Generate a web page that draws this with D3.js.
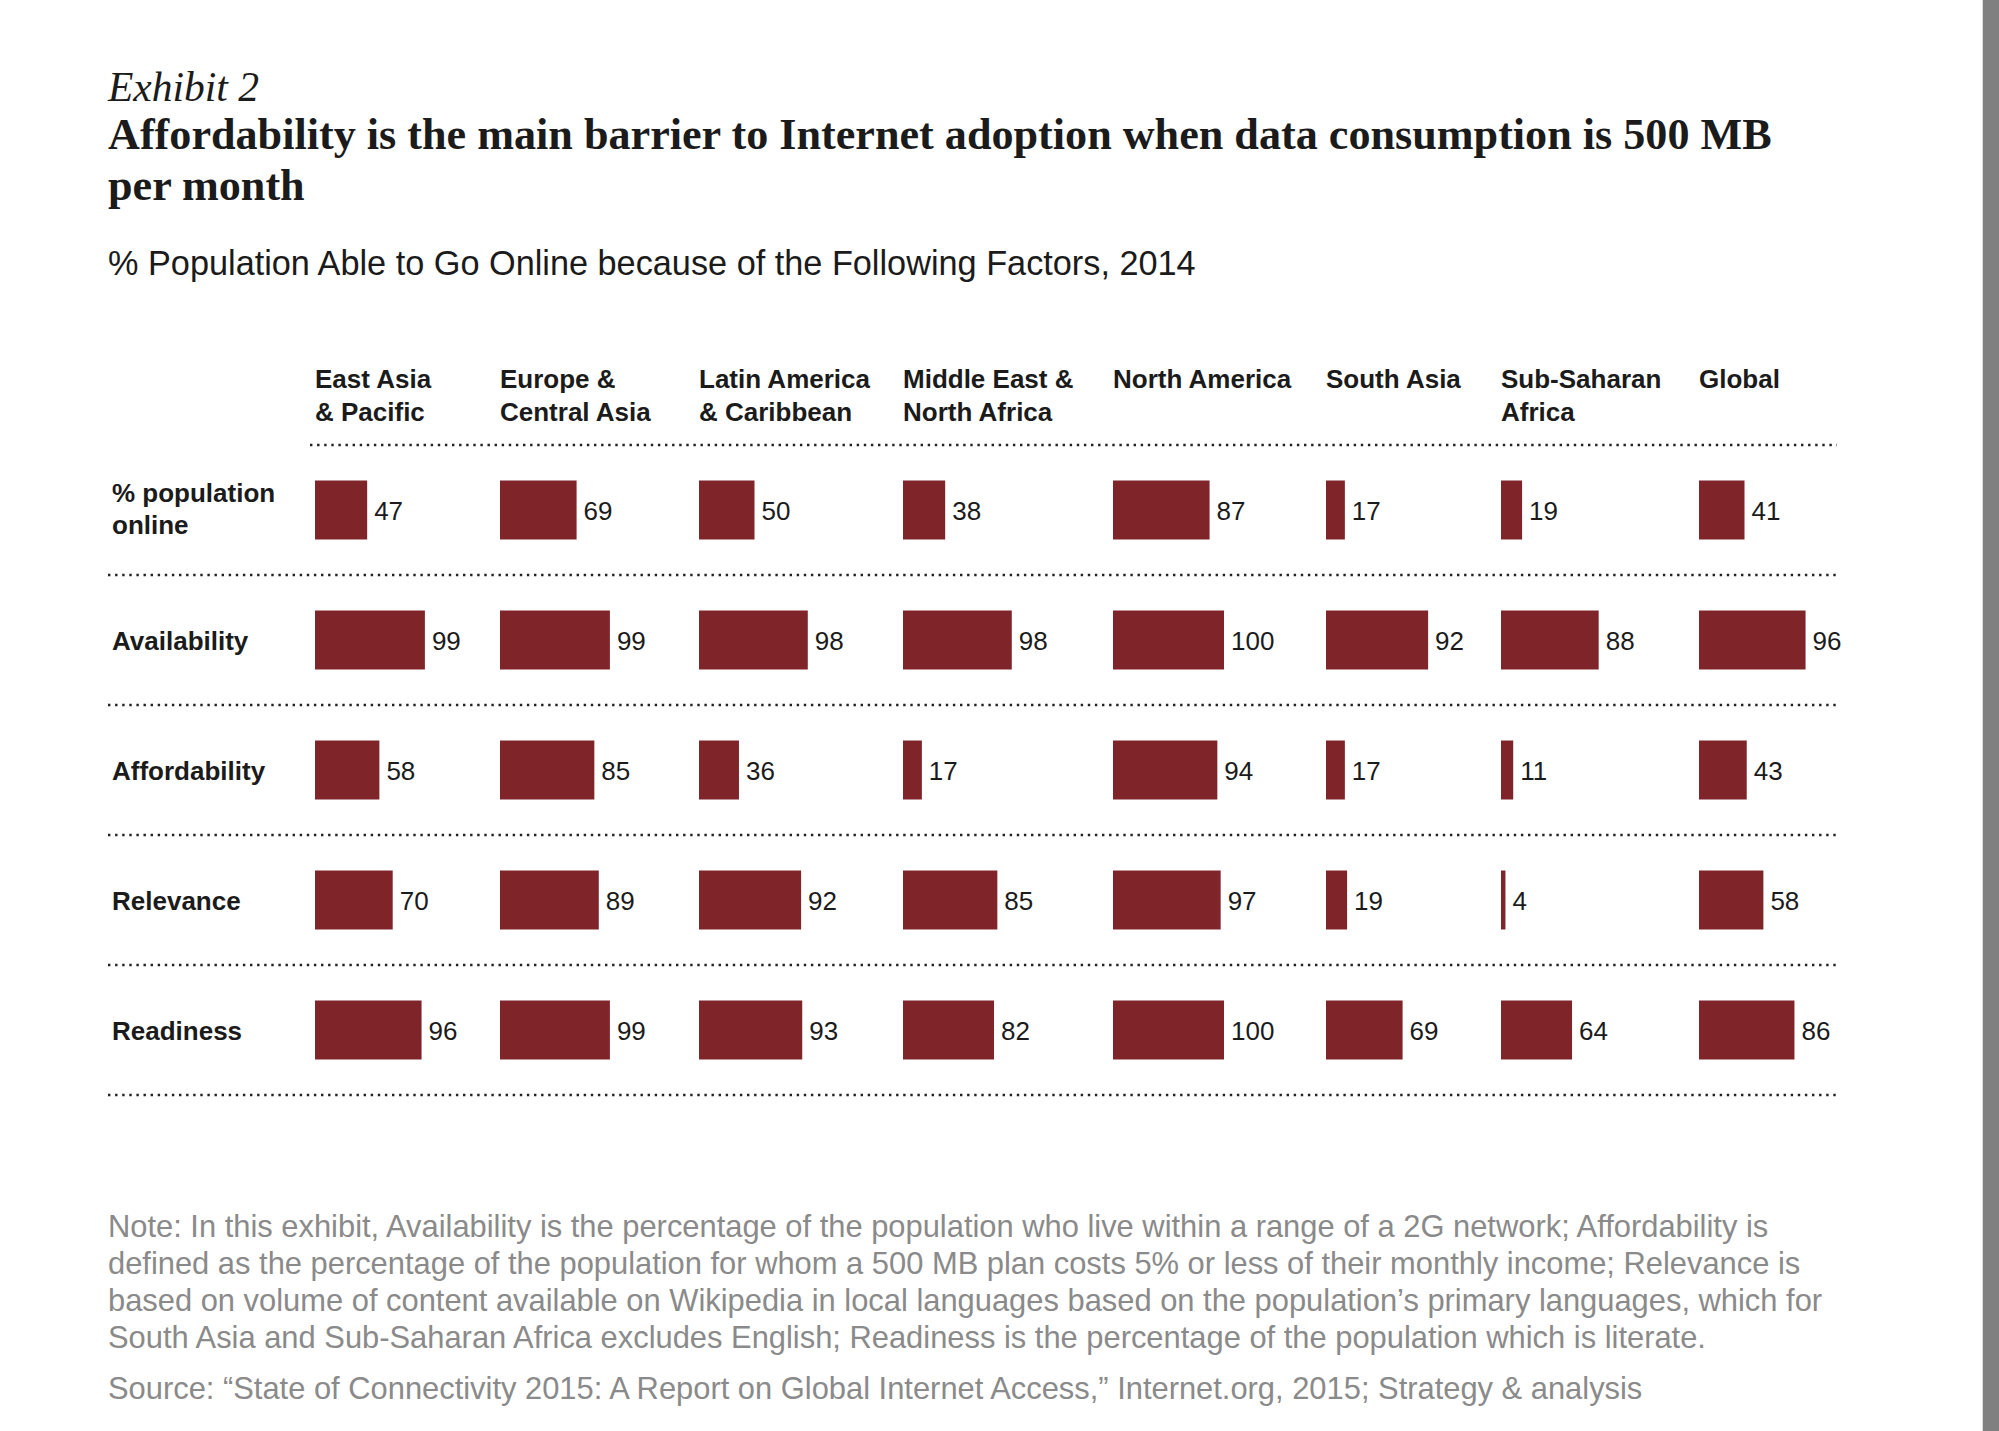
<!DOCTYPE html>
<html>
<head>
<meta charset="utf-8">
<script src="https://cdn.jsdelivr.net/npm/d3@7"></script>
<style>
  html, body { margin: 0; padding: 0; background: #fff; }
  svg { display: block; }
</style>
</head>
<body>
<svg id="chart" width="1999" height="1431"></svg>
<script>
// ---------- DATA ----------
const regions = ["East Asia & Pacific", "Europe & Central Asia", "Latin America & Caribbean",
  "Middle East & North Africa", "North America", "South Asia", "Sub-Saharan Africa", "Global"];
const regionLabelLines = [
  ["East Asia", "& Pacific"],
  ["Europe &", "Central Asia"],
  ["Latin America", "& Caribbean"],
  ["Middle East &", "North Africa"],
  ["North America"],
  ["South Asia"],
  ["Sub-Saharan", "Africa"],
  ["Global"]
];
const factors = ["% population online", "Availability", "Affordability", "Relevance", "Readiness"];
const factorLabelLines = [["% population", "online"], ["Availability"], ["Affordability"], ["Relevance"], ["Readiness"]];

const popOnline     = [47, 69, 50, 38, 87, 17, 19, 41];
const availability  = [99, 99, 98, 98, 100, 92, 88, 96];
const affordability = [58, 85, 36, 17, 94, 17, 11, 43];
const relevance     = [70, 89, 92, 85, 97, 19, 4, 58];
const readiness     = [96, 99, 93, 82, 100, 69, 64, 86];
const seriesValues = [popOnline, availability, affordability, relevance, readiness];

const exhibitText = "Exhibit 2";
const titleLines = ["Affordability is the main barrier to Internet adoption when data consumption is 500 MB", "per month"];
const subtitleText = "% Population Able to Go Online because of the Following Factors, 2014";
const noteLines = [
  "Note: In this exhibit, Availability is the percentage of the population who live within a range of a 2G network; Affordability is",
  "defined as the percentage of the population for whom a 500 MB plan costs 5% or less of their monthly income; Relevance is",
  "based on volume of content available on Wikipedia in local languages based on the population\u2019s primary languages, which for",
  "South Asia and Sub-Saharan Africa excludes English; Readiness is the percentage of the population which is literate."
];
const sourceText = "Source: \u201cState of Connectivity 2015: A Report on Global Internet Access,\u201d Internet.org, 2015; Strategy & analysis";

// ---------- LAYOUT ----------
const svg = d3.select("#chart");
const BAR = "#7f252a";
const INK = "#1b1b1b";
const GRAY = "#8a8a8a";
const LEFT = 108;
const RIGHT = 1837;

function fitText(sel, targetWidth) {
  const node = sel.node();
  const fs = parseFloat(sel.attr("font-size"));
  const w = node.getComputedTextLength();
  sel.attr("font-size", (fs * targetWidth / w).toFixed(2));
  return fs * targetWidth / w;
}

// right-edge gray strip
svg.append("rect").attr("x", 1982).attr("y", 0).attr("width", 1).attr("height", 1431).attr("fill", "#dcdcdc");
svg.append("rect").attr("x", 1983).attr("y", 0).attr("width", 16).attr("height", 1431).attr("fill", "#808080");

// Exhibit + title
const ex = svg.append("text").attr("x", LEFT).attr("y", 101)
  .attr("font-family", "Liberation Serif").attr("font-style", "italic")
  .attr("font-size", 40).attr("fill", INK).text(exhibitText);
fitText(ex, 151);

const t1 = svg.append("text").attr("x", LEFT).attr("y", 149)
  .attr("font-family", "Liberation Serif").attr("font-weight", "bold")
  .attr("font-size", 38).attr("fill", INK).text(titleLines[0]);
const titleSize = fitText(t1, 1664);
svg.append("text").attr("x", LEFT).attr("y", 200)
  .attr("font-family", "Liberation Serif").attr("font-weight", "bold")
  .attr("font-size", titleSize.toFixed(2)).attr("fill", INK).text(titleLines[1]);

const sub = svg.append("text").attr("x", LEFT).attr("y", 275)
  .attr("font-family", "Liberation Sans").attr("font-size", 30).attr("fill", INK).text(subtitleText);
fitText(sub, 1088);

// scales
const xCol = d3.scaleOrdinal().domain(regions).range([315, 500, 699, 903, 1113, 1326, 1501, 1699]);
const yRow = d3.scalePoint().domain(factors).range([510, 1030]);
const w = d3.scaleLinear().domain([0, 100]).range([0, 111]);
const barH = 59;
const rowStep = yRow.step();

// column headers
const hdr = svg.append("g").attr("font-family", "Liberation Sans").attr("font-weight", "bold")
  .attr("font-size", 26).attr("fill", INK);
regions.forEach((r, i) => {
  const t = hdr.append("text").attr("x", xCol(r)).attr("y", 388);
  regionLabelLines[i].forEach((ln, j) => {
    t.append("tspan").attr("x", xCol(r)).attr("dy", j === 0 ? 0 : 33).text(ln);
  });
});

// dotted rules
function rule(x1, x2, y) {
  svg.append("line").attr("x1", x1).attr("x2", x2).attr("y1", y).attr("y2", y)
    .attr("stroke", "#222").attr("stroke-width", 2.4).attr("stroke-dasharray", "2.4 4.7");
}
rule(310, RIGHT, 445);
factors.forEach(f => rule(LEFT, RIGHT, yRow(f) + rowStep / 2));

// row labels
const rl = svg.append("g").attr("font-family", "Liberation Sans").attr("font-weight", "bold")
  .attr("font-size", 26).attr("fill", INK);
factors.forEach((f, i) => {
  const lines = factorLabelLines[i];
  const y0 = yRow(f) + 9.5 - (lines.length - 1) * 18;
  const t = rl.append("text").attr("x", 112).attr("y", y0);
  lines.forEach((ln, j) => t.append("tspan").attr("x", 112).attr("dy", j === 0 ? 0 : 32).text(ln));
});

// bars + values
const cells = [];
factors.forEach((f, i) => regions.forEach((r, j) => cells.push({ f, r, v: seriesValues[i][j] })));

svg.append("g").selectAll("rect").data(cells).join("rect")
  .attr("x", d => xCol(d.r))
  .attr("y", d => yRow(d.f) - barH / 2)
  .attr("width", d => w(d.v))
  .attr("height", barH)
  .attr("fill", BAR);

svg.append("g").attr("font-family", "Liberation Sans").attr("font-size", 26).attr("fill", INK)
  .selectAll("text").data(cells).join("text")
  .attr("x", d => xCol(d.r) + w(d.v) + 7)
  .attr("y", d => yRow(d.f) + 9.5)
  .text(d => d.v);

// note + source
const noteG = svg.append("g").attr("font-family", "Liberation Sans").attr("fill", GRAY);
const n0 = noteG.append("text").attr("x", LEFT).attr("y", 1237).attr("font-size", 26).text(noteLines[0]);
const noteSize = fitText(n0, 1661);
noteLines.slice(1).forEach((ln, i) => {
  noteG.append("text").attr("x", LEFT).attr("y", 1237 + (i + 1) * 37)
    .attr("font-size", noteSize.toFixed(2)).text(ln);
});
noteG.append("text").attr("x", LEFT).attr("y", 1399).attr("font-size", noteSize.toFixed(2)).text(sourceText);
</script>
</body>
</html>
